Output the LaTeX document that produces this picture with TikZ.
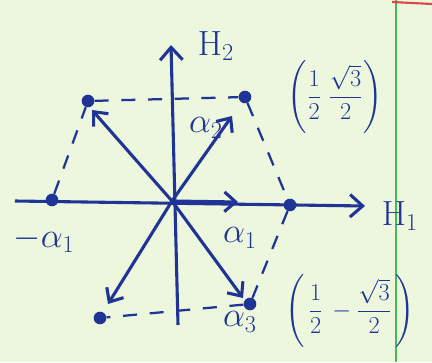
\documentclass[tikz,border=0pt]{standalone}
\usepackage{amsmath}
\usepackage{xcolor}
\usetikzlibrary{arrows.meta}
\definecolor{ink}{RGB}{32,52,150}
\definecolor{paper}{RGB}{236,247,222}
\definecolor{margin}{RGB}{70,185,90}
\definecolor{redline}{RGB}{220,70,70}

\begin{document}
\begin{tikzpicture}[
    x=0.025cm, y=-0.025cm,
    dot/.style={circle, fill=ink, inner sep=0pt, minimum size=9pt},
    axis/.style={ink, line width=2.2pt, -{Straight Barb[length=9pt, width=16pt, line width=2.2pt]}},
    root/.style={ink, line width=2.2pt, -{Straight Barb[length=8pt, width=14pt, line width=2.2pt]}},
    hexa/.style={ink, line width=1.6pt, dash pattern=on 10pt off 9pt},
    lab/.style={text=ink, font=\fontsize{24}{26}\selectfont},
    coord/.style={text=ink, font=\fontsize{18}{20}\selectfont}
]
% paper
\fill[paper] (0,0) rectangle (432,362);
\useasboundingbox (0,0) rectangle (432,362);
\draw[margin, line width=1.2pt] (396,0) -- (396,362);
\draw[redline, line width=1.5pt] (392,2) -- (432,4);

% origin, axes ends, arrow ends
\coordinate (O) at (172,201);
\coordinate (xl) at (15,201);
\coordinate (xr) at (365,206);
\coordinate (yb) at (178,325);
\coordinate (yt) at (171,45);
\coordinate (a1) at (238,202);
\coordinate (a2) at (232,116);
\coordinate (a3) at (243,298);
\coordinate (b2) at (92,110);
\coordinate (b3) at (108,304);

% roots
\node[dot] (r1) at (290,205) {};
\node[dot] (r2) at (245,97) {};
\node[dot] (r3) at (88,101) {};
\node[dot] (r4) at (52,200) {};
\node[dot] (r5) at (100,318) {};
\node[dot] (r6) at (250,304) {};

\draw[hexa] (r4) -- (r3) -- (r2) -- (r1) -- (r6) -- (r5) -- cycle;

\draw[axis] (xl) -- (xr);
\draw[axis] (yb) -- (yt);
\draw[root] (O) -- (a1);
\draw[root] (O) -- (a2);
\draw[root] (O) -- (a3);
\draw[root] (O) -- (b2);
\draw[root] (O) -- (b3);

% labels
\node[lab] (h2) at (216,46) {$\mathrm{H}_2$};
\node[lab] (h1) at (400,216) {$\mathrm{H}_1$};
\node[lab] (l1) at (240,238) {$\alpha_1$};
\node[lab] (l2) at (206,128) {$\alpha_2$};
\node[lab] (l3) at (240,322) {$\alpha_3$};
\node[lab] (m1) at (44,240) {$-\alpha_1$};
\node[coord] (c1) at (335,97) {$\left(\dfrac{1}{2}\;\dfrac{\sqrt{3}}{2}\right)$};
\node[coord] (c2) at (350,311) {$\left(\,\dfrac{1}{2}\,-\dfrac{\sqrt{3}}{2}\,\right)$};
\end{tikzpicture}
\end{document}
